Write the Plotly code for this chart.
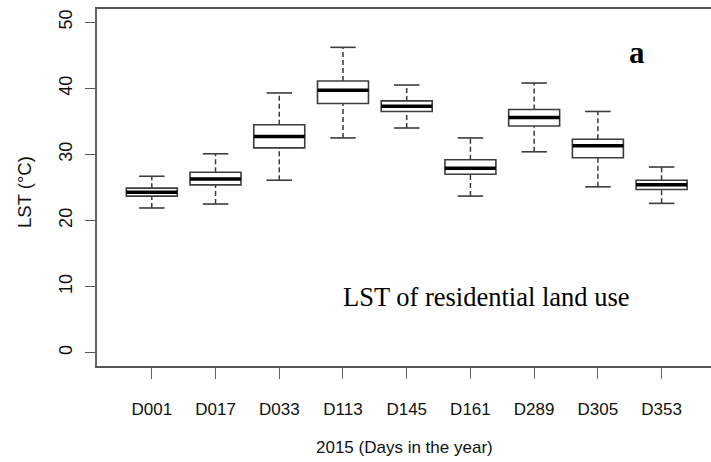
import plotly.graph_objects as go

# Land surface temperature (°C) per acquisition day, residential land use
days = ["D001", "D017", "D033", "D113", "D145", "D161", "D289", "D305", "D353"]
whisker_low = [21.9, 22.5, 26.1, 32.5, 34.0, 23.7, 30.4, 25.1, 22.6]
q1 = [23.7, 25.4, 31.0, 37.7, 36.5, 27.0, 34.3, 29.5, 24.7]
median = [24.3, 26.3, 32.7, 39.7, 37.3, 27.9, 35.6, 31.3, 25.4]
q3 = [24.9, 27.3, 34.5, 41.1, 38.1, 29.2, 36.8, 32.3, 26.1]
whisker_high = [26.7, 30.1, 39.3, 46.2, 40.5, 32.5, 40.8, 36.5, 28.1]

y_ticks = [0, 10, 20, 30, 40, 50]

positions = list(range(1, len(days) + 1))
box_w = 0.8
cap_half = box_w / 4

BOX_LINE = "#3c3c3c"
TEXT = "#111111"

fig = go.Figure()

# Boxes (interquartile range), whiskers drawn separately as dashed lines
for p, a, m, b in zip(positions, q1, median, q3):
    fig.add_trace(go.Box(
        x=[p], q1=[a], median=[m], q3=[b],
        lowerfence=[a], upperfence=[b],
        width=box_w, whiskerwidth=0,
        fillcolor="white",
        line=dict(color=BOX_LINE, width=1.6),
        boxpoints=False, hoverinfo="skip", showlegend=False,
    ))

# Dashed whiskers from box edges to extremes
wx, wy = [], []
for p, lo, a, b, hi in zip(positions, whisker_low, q1, q3, whisker_high):
    wx += [p, p, None, p, p, None]
    wy += [lo, a, None, b, hi, None]
fig.add_trace(go.Scatter(
    x=wx, y=wy, mode="lines",
    line=dict(color="#3a3a3a", width=1.5, dash="5px,3px"),
    hoverinfo="skip", showlegend=False,
))

# Whisker caps
cx, cy = [], []
for p, lo, hi in zip(positions, whisker_low, whisker_high):
    cx += [p - cap_half, p + cap_half, None, p - cap_half, p + cap_half, None]
    cy += [lo, lo, None, hi, hi, None]
fig.add_trace(go.Scatter(
    x=cx, y=cy, mode="lines",
    line=dict(color=BOX_LINE, width=1.6),
    hoverinfo="skip", showlegend=False,
))

# Thick median bars
mx, my = [], []
for p, m in zip(positions, median):
    mx += [p - box_w / 2, p + box_w / 2, None]
    my += [m, m, None]
fig.add_trace(go.Scatter(
    x=mx, y=my, mode="lines",
    line=dict(color="black", width=3.5),
    hoverinfo="skip", showlegend=False,
))

fig.update_layout(
    width=711, height=462,
    margin=dict(l=97, r=0, t=9, b=96),
    paper_bgcolor="white", plot_bgcolor="white",
    font=dict(family="Liberation Sans, Arial, sans-serif", size=17, color=TEXT),
    xaxis=dict(
        range=[0.14, 9.775],
        tickmode="array", tickvals=positions, ticktext=days,
        ticks="outside", ticklen=11, tickwidth=1.3, tickcolor="#666",
        ticklabelstandoff=16,
        showline=True, linecolor="#555", linewidth=1.5, mirror=True,
        showgrid=False, zeroline=False,
    ),
    yaxis=dict(
        range=[-2, 52],
        tickmode="array", tickvals=y_ticks, ticktext=[str(v) for v in y_ticks],
        tickangle=-90,
        ticks="outside", ticklen=10, tickwidth=1.3, tickcolor="#555",
        ticklabelstandoff=6,
        tickfont=dict(size=18),
        showline=True, linecolor="#666", linewidth=1.5, mirror=False,
        showgrid=False, zeroline=False,
    ),
    annotations=[
        dict(text="LST (°C)", xref="paper", yref="paper",
             x=-0.1173, y=0.4874, xanchor="center", yanchor="middle",
             textangle=-90, showarrow=False, font=dict(size=18.5, color=TEXT)),
        dict(text="2015 (Days in the year)", xref="paper", yref="paper",
             x=0.5016, y=-0.2269, xanchor="center", yanchor="middle",
             showarrow=False, font=dict(size=17, color=TEXT)),
        dict(text="<b>a</b>", xref="paper", yref="paper",
             x=0.880, y=0.878, xanchor="center", yanchor="middle",
             showarrow=False,
             font=dict(family="Liberation Serif, Times New Roman, serif",
                       size=31, color="black")),
        dict(text="LST of residential land use", xref="paper", yref="paper",
             x=0.635, y=0.194, xanchor="center", yanchor="middle",
             showarrow=False,
             font=dict(family="Liberation Serif, Times New Roman, serif",
                       size=26.5, color="black")),
    ],
)

fig.write_html("out.html")
